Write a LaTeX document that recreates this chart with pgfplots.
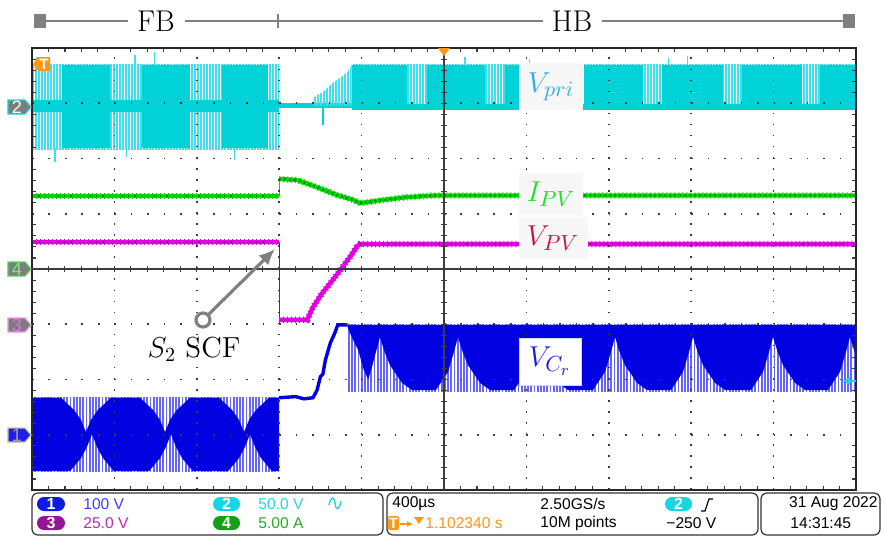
\documentclass[border=0pt]{standalone}
\usepackage{pgfplots}
\pgfplotsset{compat=1.18}
\usepackage{fontspec}
\usetikzlibrary{patterns.meta,arrows.meta}
\newfontfamily\scopefont{Liberation Sans}

% channel colours
\definecolor{chA}{RGB}{0,0,225}
\definecolor{chAl}{RGB}{100,100,250}
\definecolor{chB}{RGB}{0,210,215}
\definecolor{chBl}{RGB}{60,225,235}
\definecolor{chC}{RGB}{225,0,225}
\definecolor{chCd}{RGB}{150,0,150}
\definecolor{chD}{RGB}{0,215,0}
\definecolor{chDd}{RGB}{0,120,0}
\definecolor{orng}{RGB}{255,150,20}
\definecolor{hdr}{RGB}{128,128,128}
\definecolor{lblbg}{RGB}{247,247,247}
\definecolor{vpri}{RGB}{45,170,240}
\definecolor{ipv}{RGB}{30,225,30}
\definecolor{vpv}{RGB}{205,15,60}
\definecolor{vcr}{RGB}{25,25,225}
\definecolor{bA}{RGB}{15,25,230}
\definecolor{bB}{RGB}{20,215,230}
\definecolor{bC}{RGB}{150,20,150}
\definecolor{bD}{RGB}{20,160,20}
\definecolor{tA}{RGB}{60,60,255}
\definecolor{tB}{RGB}{40,210,225}
\definecolor{tC}{RGB}{190,40,190}
\definecolor{tD}{RGB}{40,170,40}
\definecolor{mgray}{RGB}{125,125,125}
\definecolor{grat}{RGB}{60,60,60}

\begin{document}
\begin{tikzpicture}
\path[use as bounding box] (-16pt,-24pt) rectangle (427pt,245pt);

\begin{axis}[
  at={(0,0)}, anchor=south west,
  scale only axis, width=412pt, height=221pt,
  xmin=-5, xmax=5, ymin=-4, ymax=4,
  xtick={-5,...,5}, ytick={-4,...,4},
  minor x tick num=4, minor y tick num=4,
  xticklabels={}, yticklabels={},
  tick align=inside,
  major tick length=0pt, minor tick length=2pt,
  minor tick style={grat, line width=0.55pt},
  grid=major,
  major x grid style={grat, line width=0.8pt, dash pattern=on 0.8pt off 4.725pt},
  major y grid style={grat, line width=0.8pt, dash pattern=on 0.8pt off 7.44pt},
  axis on top,
  axis line style={black!85, line width=0.8pt},
]

% ---- channel 2: primary voltage ----
\addplot[draw=none, pattern={Lines[angle=90,distance=1.5pt,line width=0.8pt]}, pattern color=chBl]
  coordinates {(-5,2.17) (-2,2.17) (-2,3.71) (-5,3.71)};
\addplot[draw=none, fill=chB] coordinates {(-4.636,2.19) (-4.053,2.19) (-4.053,3.69) (-4.636,3.69)};
\addplot[draw=none, fill=chB] coordinates {(-3.665,2.19) (-3.083,2.19) (-3.083,3.69) (-3.665,3.69)};
\addplot[draw=none, fill=chB] coordinates {(-2.694,2.19) (-2.136,2.19) (-2.136,3.69) (-2.694,3.69)};
\addplot[draw=none, fill=chB] coordinates {(-5,2.84) (-2,2.84) (-2,3.06) (-5,3.06)};
\addplot[draw=none, fill=chB] coordinates {(-2,2.91) (-1.12,2.91) (-1.12,3.00) (-2,3.00)};
\addplot[draw=none, pattern={Lines[angle=90,distance=1.5pt,line width=0.8pt]}, pattern color=chBl]
  coordinates {(-1.59,2.95) (-1.59,3.09) (-1.54,3.15) (-1.47,3.20) (-1.35,3.37) (-1.26,3.46) (-1.17,3.57) (-1.12,3.69) (-1.12,2.95)};
\addplot[chB, line width=0.8pt] coordinates {(-1.47,3.0) (-1.47,2.61)};
\addplot[draw=none, pattern={Lines[angle=90,distance=1.5pt,line width=0.8pt]}, pattern color=chBl]
  coordinates {(-1.12,2.90) (5,2.90) (5,3.71) (-1.12,3.71)};
\addplot[draw=none, fill=chB] coordinates {(-1.12,2.93) (-0.449,2.93) (-0.449,3.69) (-1.12,3.69)};
\addplot[draw=none, fill=chB] coordinates {(-0.206,2.93) (0.498,2.93) (0.498,3.69) (-0.206,3.69)};
\addplot[draw=none, fill=chB] coordinates {(0.740,2.93) (1.456,2.93) (1.456,3.69) (0.740,3.69)};
\addplot[draw=none, fill=chB] coordinates {(1.699,2.93) (2.415,2.93) (2.415,3.69) (1.699,3.69)};
\addplot[draw=none, fill=chB] coordinates {(2.646,2.93) (3.386,2.93) (3.386,3.69) (2.646,3.69)};
\addplot[draw=none, fill=chB] coordinates {(3.617,2.93) (4.345,2.93) (4.345,3.69) (3.617,3.69)};
\addplot[draw=none, fill=chB] coordinates {(4.563,2.93) (5,2.93) (5,3.69) (4.563,3.69)};
\addplot[draw=none, fill=chB] coordinates {(-1.12,2.88) (5,2.88) (5,2.98) (-1.12,2.98)};
% isolated spikes
\addplot[chBl, line width=0.6pt, unbounded coords=jump] coordinates {
  (-4.94,3.69) (-4.94,3.84) (0,nan)
  (-3.75,3.69) (-3.75,3.87) (0,nan)
  (-3.51,3.69) (-3.51,3.93) (0,nan)
  (-4.72,2.19) (-4.72,1.94) (0,nan)
  (-3.85,2.19) (-3.85,2.03) (0,nan)
  (-2.54,2.19) (-2.54,1.97) (0,nan)
  (0.255,3.69) (0.255,3.84) (0,nan)
  (1.04,3.69) (1.04,3.80) (0,nan)
  (2.72,3.69) (2.72,3.82) (0,nan)
  (2.95,3.69) (2.95,3.85)
};

% ---- channel 4: PV current ----
\addplot[chD, line width=2.2pt] coordinates {(-5,1.32) (-2,1.32)};
\addplot[chD, line width=0.6pt] coordinates {(-2,1.32) (-2,1.66)};
\addplot[chD, line width=2.2pt] coordinates {(-2,1.63) (-1.78,1.61) (-1.54,1.48) (-1.30,1.34) (-1.10,1.25) (-1.02,1.19) (-0.74,1.25) (-0.45,1.30) (-0.13,1.33) (5,1.33)};
\addplot[chD, line width=3.2pt, dash pattern=on 0.5pt off 1.5pt] coordinates {(-5,1.32) (-2,1.32)};
\addplot[chD, line width=3.2pt, dash pattern=on 0.5pt off 1.5pt] coordinates {(-2,1.63) (-1.78,1.61) (-1.54,1.48) (-1.30,1.34) (-1.10,1.25) (-1.02,1.19) (-0.74,1.25) (-0.45,1.30) (-0.13,1.33) (5,1.33)};
\addplot[chDd, line width=1pt, dash pattern=on 0.6pt off 2.6pt] coordinates {(-5,1.32) (-2,1.32)};
\addplot[chDd, line width=1.2pt, dash pattern=on 0.7pt off 1.8pt] coordinates {(-2,1.63) (-1.78,1.61) (-1.54,1.48) (-1.30,1.34) (-1.10,1.25) (-1.02,1.19) (-0.74,1.25) (-0.45,1.30) (-0.13,1.33) (5,1.33)};

% ---- channel 3: PV voltage ----
\addplot[chC, line width=2.2pt] coordinates {(-5,0.49) (-2,0.49)};
\addplot[chCd, line width=0.6pt] coordinates {(-2,0.49) (-2,-0.96)};
\addplot[chC, line width=2.2pt] coordinates {(-2,-0.92) (-1.66,-0.92) (-1.59,-0.69) (-1.47,-0.42) (-1.35,-0.20) (-1.24,0.02) (-1.14,0.22) (-1.06,0.40) (-1.02,0.45) (5,0.45)};
\addplot[chC, line width=3.2pt, dash pattern=on 0.5pt off 1.5pt] coordinates {(-5,0.49) (-2,0.49)};
\addplot[chC, line width=3.2pt, dash pattern=on 0.5pt off 1.5pt] coordinates {(-2,-0.92) (-1.66,-0.92) (-1.59,-0.69) (-1.47,-0.42) (-1.35,-0.20) (-1.24,0.02) (-1.14,0.22) (-1.06,0.40) (-1.02,0.45) (5,0.45)};
\addplot[chCd, line width=1pt, dash pattern=on 0.6pt off 2.6pt] coordinates {(-5,0.49) (-2,0.49)};
\addplot[chCd, line width=1pt, dash pattern=on 0.6pt off 2.2pt] coordinates {(-1.02,0.45) (5,0.45)};

% ---- channel 1: resonant capacitor voltage ----
\addplot[draw=none, pattern={Lines[angle=90,distance=1.6pt,line width=0.9pt]}, pattern color=chAl]
  coordinates {(-5,-2.33) (-2,-2.33) (-2,-3.66) (-5,-3.66)};
\addplot[draw=none, fill=chA] coordinates {
  (-5,-2.33) (-4.648,-2.33) (-4.491,-2.55) (-4.406,-2.73) (-4.345,-2.95) (-4.284,-2.73) (-4.199,-2.55) (-4.042,-2.33)
  (-3.689,-2.33) (-3.532,-2.55) (-3.447,-2.73) (-3.386,-2.95) (-3.325,-2.73) (-3.240,-2.55) (-3.083,-2.33)
  (-2.730,-2.33) (-2.573,-2.55) (-2.488,-2.73) (-2.427,-2.95) (-2.366,-2.73) (-2.281,-2.55) (-2.124,-2.33)
  (-2,-2.33) (-2,-3.66)
  (-2.087,-3.66) (-2.221,-3.42) (-2.293,-3.22) (-2.354,-2.99) (-2.415,-3.22) (-2.487,-3.42) (-2.621,-3.66)
  (-3.046,-3.66) (-3.180,-3.42) (-3.252,-3.22) (-3.313,-2.99) (-3.374,-3.22) (-3.446,-3.42) (-3.580,-3.66)
  (-4.005,-3.66) (-4.139,-3.42) (-4.211,-3.22) (-4.272,-2.99) (-4.333,-3.22) (-4.405,-3.42) (-4.539,-3.66)
  (-5,-3.66)};
\addplot[chA, line width=1.7pt] coordinates {(-2,-2.33) (-1.80,-2.31) (-1.70,-2.35) (-1.59,-2.33) (-1.54,-2.19) (-1.50,-1.95) (-1.47,-1.90) (-1.44,-1.65) (-1.38,-1.34) (-1.32,-1.14) (-1.29,-1.01) (-1.17,-1.01)};
\addplot[draw=none, pattern={Lines[angle=90,distance=1.6pt,line width=0.9pt]}, pattern color=chAl]
  coordinates {(-1.17,-1.01) (5,-1.01) (5,-2.22) (-1.17,-2.22)};
\addplot[draw=none, fill=chA] coordinates {
  (-1.17,-1.01) (5,-1.01) (5,-1.57)
  (4.976,-1.47) (4.927,-1.23) (4.878,-1.50) (4.806,-1.86) (4.660,-2.19)
  (4.381,-2.19) (4.260,-2.06) (4.114,-1.74) (4.042,-1.47) (3.993,-1.23) (3.944,-1.50) (3.872,-1.86) (3.726,-2.19)
  (3.410,-2.19) (3.289,-2.06) (3.143,-1.74) (3.071,-1.47) (3.022,-1.23) (2.973,-1.50) (2.901,-1.86) (2.755,-2.19)
  (2.463,-2.19) (2.342,-2.06) (2.196,-1.74) (2.124,-1.47) (2.075,-1.23) (2.026,-1.50) (1.954,-1.86) (1.808,-2.19)
  (1.505,-2.19) (1.384,-2.06) (1.238,-1.74) (1.166,-1.47) (1.117,-1.23) (1.068,-1.50) (0.996,-1.86) (0.850,-2.19)
  (0.558,-2.19) (0.437,-2.06) (0.291,-1.74) (0.219,-1.47) (0.170,-1.23) (0.121,-1.50) (0.049,-1.86) (-0.097,-2.19)
  (-0.389,-2.19) (-0.510,-2.06) (-0.656,-1.74) (-0.728,-1.47) (-0.777,-1.23) (-0.826,-1.50) (-0.87,-1.75) (-0.92,-2.00)
  (-0.98,-1.80) (-1.04,-1.47) (-1.12,-1.23) (-1.17,-1.05)};
\end{axis}

% ---- overlay in screen pixels (origin top left) ----
\begin{scope}[x=0.5pt,y=-0.5pt,shift={(-16pt,245pt)}]
  % centre rulers
  \draw[grat, line width=0.6pt] (444,48) -- (444,490);
  \draw[grat, line width=0.6pt] (32,269) -- (856,269);
  \foreach \k in {1,...,49} \draw[grat, line width=0.5pt] ({32+\k*16.48},266) -- ({32+\k*16.48},272);
  \foreach \k in {1,...,39} \draw[grat, line width=0.5pt] (441,{48+\k*11.05}) -- (447,{48+\k*11.05});

  % trace labels
  \fill[lblbg] (519,63) rectangle (583,110);
  \node[text=vpri] at (551,87) {\fontsize{15.5}{18}\selectfont $V_{pri}$};
  \fill[lblbg] (519,173) rectangle (583,215);
  \node[text=ipv] at (551,194) {\fontsize{15.5}{18}\selectfont $I_{PV}$};
  \fill[lblbg] (519,217) rectangle (588,259);
  \node[text=vpv] at (553,238) {\fontsize{15.5}{18}\selectfont $V_{PV}$};
  \filldraw[fill=white, draw=black!15, line width=0.4pt] (519,338) rectangle (581,385);
  \node[text=vcr] at (550,361) {\fontsize{15.5}{18}\selectfont $V_{C_r}$};

  % fault annotation
  \draw[hdr, line width=1.6pt, -{Latex[length=8pt,width=7pt]}] (208,315) -- (275,249);
  \draw[hdr, line width=1.6pt, fill=white] (203,320) circle (7);
  \node at (194,349) {\fontsize{14.5}{17}\selectfont $S_2$ SCF};

  % mode bar
  \draw[hdr, line width=1pt] (46,21) -- (128,21) (185,21) -- (543,21) (602,21) -- (843,21);
  \draw[hdr, line width=1pt] (278,14) -- (278,28);
  \fill[hdr] (34,14) rectangle (46,28);
  \fill[hdr] (843,14) rectangle (855,28);
  \node at (156,21) {\fontsize{15}{18}\selectfont FB};
  \node at (572,21) {\fontsize{15}{18}\selectfont HB};

  % trigger markers
  \fill[orng] (438,48) -- (450,48) -- (444,56) -- cycle;
  \fill[orng] (33,64) -- (38,57) -- (50,57) -- (50,71) -- (38,71) -- cycle;
  \node[text=white, font=\scopefont\bfseries\fontsize{7.5}{8}\selectfont] at (44,64) {T};
  \fill[bB] (843,381) -- (850,377) -- (850,385) -- cycle;
  \draw[bB, line width=0.8pt] (849,381) -- (856,381);

  % channel ground markers
  \filldraw[fill=mgray, draw=bB, line width=0.6pt] (8,100) -- (25,100) -- (31,107) -- (25,114) -- (8,114) -- cycle;
  \node[text=white, font=\scopefont\fontsize{9}{10}\selectfont] at (17,107) {2};
  \filldraw[fill=mgray, draw={rgb,255:red,90;green,210;blue,90}, line width=0.6pt] (8,262) -- (25,262) -- (31,269) -- (25,276) -- (8,276) -- cycle;
  \node[text={rgb,255:red,140;green,225;blue,140}, font=\scopefont\fontsize{9}{10}\selectfont] at (17,269) {4};
  \filldraw[fill=mgray, draw={rgb,255:red,240;green,150;blue,240}, line width=0.6pt] (8,318) -- (25,318) -- (31,325) -- (25,332) -- (8,332) -- cycle;
  \node[text={rgb,255:red,230;green,110;blue,230}, font=\scopefont\fontsize{9}{10}\selectfont] at (17,325) {3};
  \filldraw[fill={rgb,255:red,30;green,30;blue,240}, draw={rgb,255:red,200;green,200;blue,150}, line width=0.6pt] (8,428) -- (25,428) -- (31,435) -- (25,442) -- (8,442) -- cycle;
  \node[text={rgb,255:red,160;green,160;blue,170}, font=\scopefont\fontsize{9}{10}\selectfont] at (17,435) {1};

  % status bar
  \draw[black!80, line width=0.6pt, rounded corners=3pt] (32,493) rectangle (383,535);
  \draw[black!80, line width=0.6pt, rounded corners=3pt] (387,493) rectangle (758,535);
  \draw[black!80, line width=0.6pt, rounded corners=3pt] (761,493) rectangle (880,535);
  \tikzset{badge/.style={text=white, font=\scopefont\bfseries\fontsize{8}{9}\selectfont},
           st/.style={anchor=west, inner sep=0pt, font=\scopefont\fontsize{7.8}{9}\selectfont}}
  \fill[bA, rounded corners=3.5pt] (37,497) rectangle (65,511);
  \node[badge] at (51,504) {1};
  \fill[bC, rounded corners=3.5pt] (37,516) rectangle (65,530);
  \node[badge] at (51,523) {3};
  \fill[bB, rounded corners=3.5pt] (213,497) rectangle (240,511);
  \node[badge] at (226.5,504) {2};
  \fill[bD, rounded corners=3.5pt] (213,516) rectangle (240,530);
  \node[badge] at (226.5,523) {4};
  \node[st, text=tA] at (83,504) {100 V};
  \node[st, text=tC] at (83,523) {25.0 V};
  \node[st, text=tB] at (258,504) {50.0 V};
  \node[st, text=tD] at (258,523) {5.00 A};
  \draw[tB, line width=0.7pt] (329,505) .. controls (331,496) and (334,496) .. (335,503) .. controls (336,511) and (339,511) .. (341,501);

  \node[st] at (392,504) {400µs};
  \fill[orng, rounded corners=1pt] (388,516) rectangle (399,530);
  \node[text=white, font=\scopefont\bfseries\fontsize{7.5}{8}\selectfont] at (393.5,523) {T};
  \draw[orng, line width=0.8pt, -{Latex[length=3pt,width=3pt]}] (400,524) -- (413,524);
  \fill[orng] (414,517) -- (424,517) -- (419,524) -- cycle;
  \node[st, text=orng] at (425,523) {1.102340 s};
  \node[st] at (540,504) {2.50GS/s};
  \node[st] at (540,523) {10M points};
  \fill[bB, rounded corners=3.5pt] (665,497) rectangle (692,511);
  \node[badge] at (678.5,504) {2};
  \draw[black, line width=0.6pt] (701,511) -- (705,511) -- (709,499) -- (713,499);
  \node[st] at (666,523) {−250 V};
  \node[st, anchor=east] at (878,504) {31 Aug 2022};
  \node[st] at (790,523) {14:31:45};
\end{scope}
\end{tikzpicture}
\end{document}
